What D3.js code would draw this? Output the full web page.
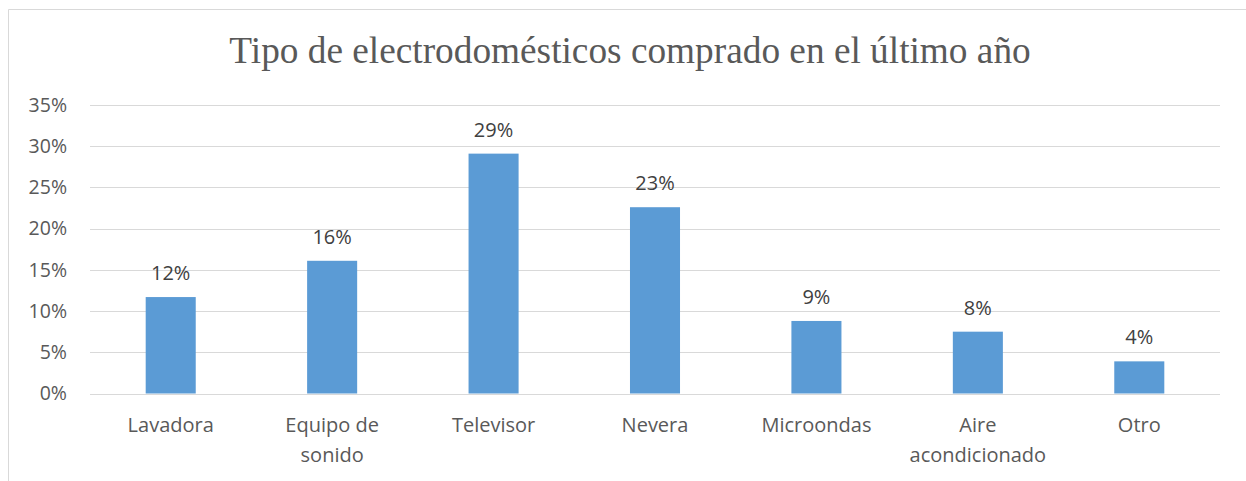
<!DOCTYPE html>
<html>
<head>
<meta charset="utf-8">
<script src="https://cdn.jsdelivr.net/npm/d3@7"></script>
<style>
  body { margin: 0; background: #fff; }
  svg { display: block; }
</style>
</head>
<body>
<svg id="chart" width="1246" height="481"></svg>
<script>
// Data
// ----
var categories = ["Lavadora", "Equipo de sonido", "Televisor", "Nevera", "Microondas", "Aire acondicionado", "Otro"];
var values = [0.117, 0.161, 0.291, 0.226, 0.088, 0.075, 0.039];
var labels = ["12%", "16%", "29%", "23%", "9%", "8%", "4%"];
var yTicks = [0, 0.05, 0.10, 0.15, 0.20, 0.25, 0.30, 0.35];
// wrapped category text, as in the picture
var catLines = [["Lavadora"], ["Equipo de", "sonido"], ["Televisor"], ["Nevera"], ["Microondas"], ["Aire", "acondicionado"], ["Otro"]];

var svg = d3.select("#chart");
var sans = "'Open Sans', sans-serif";

// Frame
// -----
svg.append("path")
  .attr("d", "M8.5,481 V9.5 H1246")
  .attr("fill", "none")
  .attr("stroke", "#d9d9d9")
  .attr("stroke-width", 1);

// Title
// -----
svg.append("text")
  .attr("x", 630)
  .attr("y", 63)
  .attr("text-anchor", "middle")
  .attr("font-family", "'Liberation Serif', 'Times New Roman', serif")
  .attr("font-size", 37.3)
  .attr("fill", "#595959")
  .text("Tipo de electrodomésticos comprado en el último año");

// Scales
// ------
var x = d3.scaleBand().domain(categories).range([90, 1220]).paddingInner(0.69).paddingOuter(0.345);
var y = d3.scaleLinear().domain([0, 0.35]).range([393.5, 105]);

// Gridlines
// ---------
svg.append("g").selectAll("line")
  .data(yTicks)
  .enter().append("line")
  .attr("x1", 90).attr("x2", 1220)
  .attr("y1", function(d) { return Math.round(y(d)) + 0.5; })
  .attr("y2", function(d) { return Math.round(y(d)) + 0.5; })
  .attr("stroke", "#d9d9d9")
  .attr("stroke-width", 1.2);

// Y axis labels
// -------------
var yAxis = d3.axisLeft(y).tickValues(yTicks).tickSize(0).tickPadding(0)
  .tickFormat(d3.format(".0%"));
var yg = svg.append("g").attr("transform", "translate(67,0)").call(yAxis);
yg.select(".domain").remove();
yg.selectAll("text")
  .attr("font-family", sans)
  .attr("font-size", 19.5)
  .attr("fill", "#595959");

// Bars
// ----
svg.append("g").selectAll("rect")
  .data(values)
  .enter().append("rect")
  .attr("x", function(d, i) { return x(categories[i]); })
  .attr("width", x.bandwidth())
  .attr("y", function(d) { return y(d); })
  .attr("height", function(d) { return y(0) - y(d); })
  .attr("fill", "#5b9bd5");

// Data labels
// -----------
svg.append("g").selectAll("text")
  .data(values)
  .enter().append("text")
  .attr("x", function(d, i) { return x(categories[i]) + x.bandwidth() / 2; })
  .attr("y", function(d) { return y(d) - 17; })
  .attr("text-anchor", "middle")
  .attr("font-family", sans)
  .attr("font-size", 20)
  .attr("fill", "#404040")
  .text(function(d, i) { return labels[i]; });

// Category labels
// ---------------
var cat = svg.append("g").selectAll("text")
  .data(categories)
  .enter().append("text")
  .attr("x", function(d) { return x(d) + x.bandwidth() / 2; })
  .attr("y", 432)
  .attr("text-anchor", "middle")
  .attr("font-family", sans)
  .attr("font-size", 20)
  .attr("fill", "#595959");

cat.selectAll("tspan")
  .data(function(d, i) { return catLines[i]; })
  .enter().append("tspan")
  .attr("x", function() { return d3.select(this.parentNode).attr("x"); })
  .attr("dy", function(d, i) { return i === 0 ? 0 : 30; })
  .text(function(d) { return d; });
</script>
</body>
</html>
